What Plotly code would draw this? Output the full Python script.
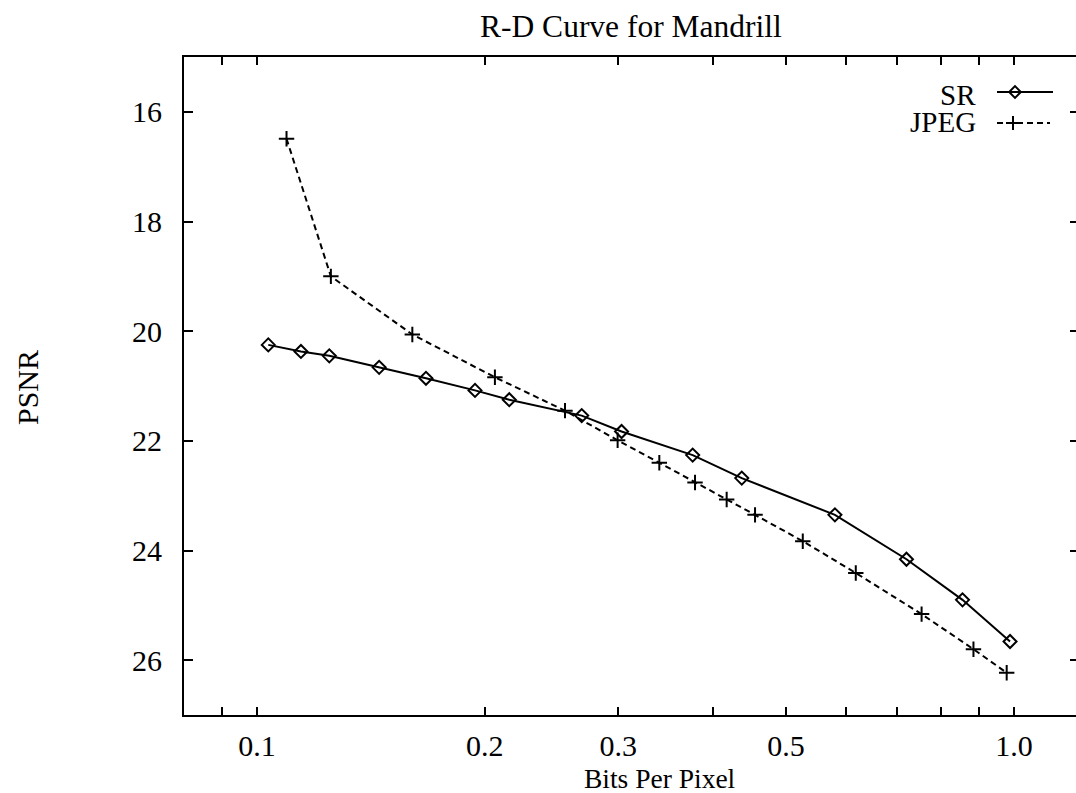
import plotly.graph_objects as go
import numpy as np

# ---- data ----
sr_bpp = [0.1035, 0.1143, 0.1246, 0.145, 0.1672, 0.1941, 0.2154, 0.2685,
          0.3031, 0.3763, 0.4369, 0.580, 0.721, 0.855, 0.988]
sr_psnr = [20.25, 20.37, 20.45, 20.66, 20.86, 21.08, 21.25, 21.54,
           21.83, 22.26, 22.68, 23.35, 24.16, 24.90, 25.66]
jpeg_bpp = [0.1094, 0.1252, 0.1604, 0.2062, 0.2552, 0.2995, 0.340, 0.379,
            0.4173, 0.4549, 0.526, 0.618, 0.755, 0.884, 0.978]
jpeg_psnr = [16.49, 19.00, 20.06, 20.84, 21.45, 21.99, 22.40, 22.76,
             23.07, 23.35, 23.83, 24.41, 25.16, 25.80, 26.23]

x_tickvals = [0.09, 0.1, 0.2, 0.3, 0.4, 0.5, 0.6, 0.7, 0.8, 0.9, 1.0]
x_ticktext = ["", "0.1", "0.2", "0.3", "", "0.5", "", "", "", "", "1.0"]
y_tickvals = [16, 18, 20, 22, 24, 26]
y_ticktext = ["16", "18", "20", "22", "24", "26"]

title_text = "R-D Curve for Mandrill"
x_title = "Bits Per Pixel"
y_title = "PSNR"
series_names = ["SR", "JPEG"]

# ---- layout geometry (pixels) ----
W, H = 1076, 793
L, R, T, B = 184, 1076, 57, 715
FONT = "Liberation Serif, Times New Roman, serif"


def px(xp):
    return (xp - L) / (R - L)


def py(yp):
    return (B - yp) / (B - T)


fig = go.Figure()

fig.add_trace(go.Scatter(
    x=sr_bpp, y=sr_psnr, mode="lines+markers", name=series_names[0],
    line=dict(color="black", width=2),
    marker=dict(symbol="diamond-open", size=10, color="black",
                line=dict(width=2, color="black")),
    showlegend=False,
))
fig.add_trace(go.Scatter(
    x=jpeg_bpp, y=jpeg_psnr, mode="lines+markers", name=series_names[1],
    line=dict(color="black", width=2, dash="6px,4px"),
    marker=dict(symbol="cross-thin-open", size=11, color="black",
                line=dict(width=2, color="black")),
    showlegend=False,
))

# legend keys drawn on an auxiliary [0,1] axis pair
key_x0, key_x1, key_xm = px(997), px(1053), px(1015)
key_y = [py(92), py(123)]
fig.add_trace(go.Scatter(
    x=[key_x0, key_x1], y=[key_y[0]] * 2, mode="lines", xaxis="x2", yaxis="y3",
    line=dict(color="black", width=2), showlegend=False, hoverinfo="skip"))
fig.add_trace(go.Scatter(
    x=[key_xm], y=[key_y[0]], mode="markers", xaxis="x2", yaxis="y3",
    marker=dict(symbol="diamond-open", size=9, color="black",
                line=dict(width=2, color="black")),
    showlegend=False, hoverinfo="skip"))
fig.add_trace(go.Scatter(
    x=[key_x0, px(1050)], y=[key_y[1]] * 2, mode="lines", xaxis="x2", yaxis="y3",
    line=dict(color="black", width=2, dash="6px,4px"), showlegend=False,
    hoverinfo="skip"))
fig.add_trace(go.Scatter(
    x=[px(1013)], y=[key_y[1]], mode="markers", xaxis="x2", yaxis="y3",
    marker=dict(symbol="cross-thin-open", size=10, color="black",
                line=dict(width=2, color="black")),
    showlegend=False, hoverinfo="skip"))

tickfont = dict(family=FONT, size=30, color="black")

fig.update_layout(
    width=W, height=H,
    margin=dict(l=L, r=W - R, t=T, b=H - B, pad=0),
    paper_bgcolor="white", plot_bgcolor="white",
    showlegend=False,
    xaxis=dict(
        type="log", range=[np.log10(0.08) + 0.0005, 0.0819],
        tickvals=x_tickvals, ticktext=x_ticktext,
        ticks="inside", ticklen=8, tickwidth=2, tickcolor="black",
        showline=True, linewidth=2, linecolor="black", mirror="ticks",
        showgrid=False, zeroline=False, tickfont=tickfont,
        ticklabelstandoff=3,
    ),
    yaxis=dict(
        range=[27, 15], tickvals=y_tickvals, ticktext=y_ticktext,
        ticks="inside", ticklen=9, tickwidth=2, tickcolor="black",
        showline=True, linewidth=2, linecolor="black", mirror=False,
        showgrid=False, zeroline=False, tickfont=tickfont,
        ticklabelstandoff=14,
    ),
    yaxis2=dict(
        overlaying="y", side="right", range=[27, 15], tickvals=y_tickvals,
        ticks="inside", ticklen=6, tickwidth=2, tickcolor="black",
        showticklabels=False, showline=False, showgrid=False, zeroline=False,
        anchor="x",
    ),
    xaxis2=dict(overlaying="x", range=[0, 1], visible=False, anchor="y3"),
    yaxis3=dict(overlaying="y", range=[0, 1], visible=False, anchor="x2"),
)

# invisible trace to activate yaxis2 (right-side ticks)
fig.add_trace(go.Scatter(x=[sr_bpp[0]], y=[sr_psnr[0]], yaxis="y2", mode="markers",
                         marker=dict(opacity=0), showlegend=False, hoverinfo="skip"))

fig.add_annotation(text=title_text, xref="paper", yref="paper",
                   x=px(631), y=py(26), xanchor="center", yanchor="middle",
                   showarrow=False, font=dict(family=FONT, size=31.5, color="black"))
fig.add_annotation(text=x_title, xref="paper", yref="paper",
                   x=px(660), y=py(778), xanchor="center", yanchor="middle",
                   showarrow=False, font=dict(family=FONT, size=27.5, color="black"))
fig.add_annotation(text=y_title, xref="paper", yref="paper",
                   x=px(27), y=py(388), xanchor="center", yanchor="middle",
                   textangle=-90, showarrow=False,
                   font=dict(family=FONT, size=30, color="black"))
leg_font = dict(family=FONT, size=29, color="black")
fig.add_annotation(text=series_names[0], xref="paper", yref="paper",
                   x=px(978), y=py(95), xanchor="right", yanchor="middle",
                   showarrow=False, font=leg_font)
fig.add_annotation(text=series_names[1], xref="paper", yref="paper",
                   x=px(978), y=py(122), xanchor="right", yanchor="middle",
                   showarrow=False, font=leg_font)

fig.write_html("out.html")
